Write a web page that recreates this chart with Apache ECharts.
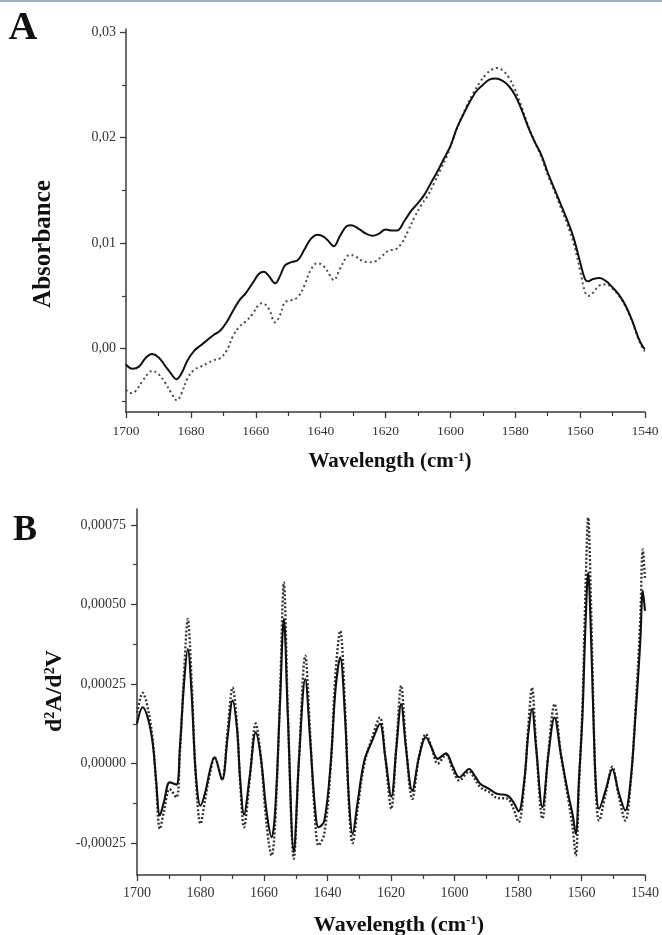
<!DOCTYPE html>
<html>
<head>
<meta charset="utf-8">
<script src="https://cdn.jsdelivr.net/npm/echarts@6/dist/echarts.min.js"></script>
<style>
html,body{margin:0;padding:0;background:#fff;}
#c{width:662px;height:935px;}
</style>
</head>
<body>
<div id="c"></div>
<script>
// ---------- Panel A : absorbance ----------
const wnA_solid = [1700,1698,1696,1694,1692,1690,1688,1686,1684.5,1683,1681,1679,1677,1675,1673,1671,1669,1667,1665,1663,1661,1659,1657.5,1656,1654,1652.5,1651,1649,1647,1645,1643,1641,1639,1637,1636,1634,1632,1630.5,1628,1626,1624,1622,1620,1618,1616.5,1614,1612,1610,1608,1606,1604,1602,1600,1598,1596,1594,1592,1590,1588,1586,1584,1582,1580,1578,1576,1574,1572,1570,1568,1566,1564,1562,1560,1558.5,1557.5,1556,1554,1552,1550,1548,1546,1544,1542,1540.5,1540];
const absSolid = [-0.0015,-0.0019,-0.0017,-0.0009,-0.0005,-0.0008,-0.0016,-0.0024,-0.0029,-0.0024,-0.0011,-0.0002,0.0003,0.0008,0.0013,0.0017,0.0025,0.0036,0.0046,0.0053,0.0062,0.0071,0.0073,0.0069,0.0062,0.0069,0.0079,0.0082,0.0084,0.0094,0.0104,0.0108,0.0106,0.0100,0.0097,0.0107,0.0116,0.0117,0.0113,0.0109,0.0107,0.0109,0.0113,0.0112,0.0112,0.0122,0.0131,0.0138,0.0146,0.0157,0.0168,0.0180,0.0192,0.0209,0.0222,0.0234,0.0244,0.0250,0.0255,0.0256,0.0254,0.0249,0.0240,0.0226,0.0210,0.0196,0.0184,0.0167,0.0152,0.0137,0.0122,0.0105,0.0082,0.0066,0.0064,0.0066,0.0067,0.0064,0.0058,0.0051,0.0041,0.0027,0.0010,0.0001,0.0000];

const wnA_dotted = [1700,1698.5,1697,1695,1693,1692,1690,1688,1686,1684.3,1683,1681,1679,1677,1675,1673,1671,1669,1667,1665,1663,1661,1659,1658,1656,1654,1652.5,1651,1649,1647,1645,1643,1641,1639,1637,1636,1634,1632,1631,1629,1627,1625,1623,1621,1619,1617,1615,1613,1611,1609,1607,1605,1603,1601,1599,1597,1595,1593,1591,1589,1587,1585.5,1584,1582,1580,1578,1576,1574,1572,1570,1568,1566,1564,1562,1560,1558.5,1557.5,1556,1554,1552,1550,1548,1546,1544,1542,1540.5,1540];
const absDotted = [-0.0039,-0.0042,-0.0040,-0.0031,-0.0023,-0.0021,-0.0024,-0.0032,-0.0042,-0.0049,-0.0043,-0.0028,-0.0020,-0.0017,-0.0014,-0.0011,-0.0009,-0.0002,0.0012,0.0021,0.0026,0.0033,0.0042,0.0043,0.0038,0.0025,0.0032,0.0044,0.0046,0.0049,0.0060,0.0075,0.0081,0.0078,0.0069,0.0065,0.0076,0.0087,0.0089,0.0087,0.0083,0.0082,0.0083,0.0088,0.0093,0.0094,0.0100,0.0112,0.0125,0.0136,0.0145,0.0157,0.0170,0.0183,0.0200,0.0216,0.0230,0.0242,0.0252,0.0260,0.0265,0.0266,0.0264,0.0257,0.0245,0.0229,0.0211,0.0196,0.0182,0.0165,0.0150,0.0134,0.0118,0.0100,0.0074,0.0054,0.0050,0.0053,0.0060,0.0061,0.0057,0.0050,0.0040,0.0026,0.0009,-0.0001,-0.0002];

const yTicksA = [0.00, 0.01, 0.02, 0.03];
const yMinorA = [-0.005, 0.005, 0.015, 0.025];

// ---------- Panel B : second derivative ----------
const wnB_solid = [1700,1698.2,1696.5,1695,1694,1692.8,1691.5,1689.7,1687.6,1686.5,1685.2,1684,1682.8,1681.5,1680,1678.5,1677,1675.6,1673.2,1671.5,1669.9,1668.5,1667.5,1666.3,1664.5,1662.6,1661,1659.2,1657.6,1656.5,1655,1653.75,1652.5,1650.6,1649,1647,1645.5,1644,1642.8,1641,1639,1637.5,1636,1634.5,1633.2,1632.1,1630.5,1628.4,1626,1623.5,1621.8,1619.9,1618.3,1616.8,1615.3,1613.3,1611.2,1609,1607.2,1605.3,1602.7,1600.5,1598.5,1595.4,1593.5,1591.8,1589,1586.6,1583.4,1581.5,1579.8,1578,1576.8,1575.6,1574.3,1572.3,1570.4,1568.5,1566.5,1564.2,1562.8,1561.8,1560.8,1559.7,1558.8,1557.9,1557.0,1556.2,1555.4,1554.5,1552.3,1550.3,1548.3,1546.2,1544.5,1543,1541.5,1540.7,1540];
const d2Solid = [0.000125,0.000177,0.00014,0.00006,-0.00005,-0.000163,-0.00012,-0.000059,-0.000066,0.00005,0.00025,0.00036,0.00022,-0.00003,-0.000132,-0.00009,-0.00002,0.00002,-0.00005,0.00008,0.000198,0.00011,-0.00005,-0.00016,-0.00004,0.000098,0.00002,-0.00015,-0.000231,-0.00015,0.00018,0.000454,0.00015,-0.000278,0.00001,0.000266,0.00008,-0.00013,-0.0002,-0.00018,0.0,0.00023,0.000334,0.00015,-0.00012,-0.000221,-0.00012,0.00001,0.00007,0.000125,0.00002,-0.000104,0.00005,0.000187,0.00005,-0.000085,0.00002,0.000083,0.00005,0.000015,0.000032,-0.00001,-0.000043,-0.000017,-0.00004,-0.000064,-0.00008,-0.000095,-0.0001,-0.00012,-0.00015,-0.00005,0.00009,0.000172,0.00005,-0.000137,0.00003,0.000145,0.00003,-0.000095,-0.00016,-0.000221,-0.00005,0.00015,0.00042,0.0006,0.0004,0.00013,-0.00008,-0.000142,-0.00008,-0.000017,-0.00009,-0.000147,-0.00005,0.00015,0.00038,0.000543,0.00048];

const wnB_dotted = wnB_solid;
const d2Dotted = [0.00016,0.000222,0.00017,0.00007,-0.00006,-0.000205,-0.00015,-0.00008,-0.000106,0.00003,0.00028,0.000454,0.00026,-0.00004,-0.000189,-0.00011,-0.00003,0.00002,-0.00005,0.0001,0.000239,0.00012,-0.00006,-0.0002,-0.00005,0.000126,0.00002,-0.00019,-0.000289,-0.00019,0.0002,0.000569,0.00017,-0.000299,0.00001,0.000339,0.0001,-0.00016,-0.000257,-0.00022,-0.00001,0.00028,0.000417,0.00018,-0.00014,-0.00025,-0.00014,0.0,0.00008,0.000145,0.00002,-0.000142,0.00006,0.000245,0.00006,-0.000111,0.00002,0.000093,0.00005,0.0,0.000028,-0.00002,-0.000053,-0.000025,-0.00005,-0.000075,-0.00009,-0.000108,-0.00011,-0.00014,-0.000184,-0.00006,0.00011,0.000239,0.00006,-0.000173,0.00004,0.000187,0.00003,-0.00011,-0.0002,-0.000289,-0.00007,0.00018,0.00052,0.000773,0.0005,0.00015,-0.0001,-0.000179,-0.00009,-0.00001,-0.0001,-0.000179,-0.00006,0.00017,0.00045,0.000673,0.00058];

const yTicksB = [-0.00025, 0, 0.00025, 0.0005, 0.00075];
const yMinorB = [-0.000125, 0.000125, 0.000375, 0.000625];
const xTicks = [1700, 1680, 1660, 1640, 1620, 1600, 1580, 1560, 1540];

// ---------- build ----------
const zip = (xs, ys) => xs.map((x, i) => [x, ys[i]]);
const SERIF = 'Liberation Serif';
const axisCol = '#3a3a3a';

function xAxisDef(gridIndex, fs, margin) {
  return {
    type: 'value', gridIndex, min: xTicks[xTicks.length - 1], max: xTicks[0], interval: 20, inverse: true,
    axisLine: { show: true, onZero: false, lineStyle: { color: axisCol, width: 1.5 } },
    axisTick: { show: true, length: 6, lineStyle: { color: axisCol, width: 1.3 } },
    minorTick: { show: true, splitNumber: 2, length: 4, lineStyle: { color: axisCol, width: 1.2 } },
    axisLabel: { fontFamily: SERIF, fontSize: fs, color: '#333', margin, formatter: v => String(Math.round(v)) },
    splitLine: { show: false }
  };
}
function yMain(gridIndex, min, max, ticks, dec, fs, margin) {
  return {
    type: 'value', gridIndex, min, max,
    axisLine: { show: true, onZero: false, lineStyle: { color: axisCol, width: 1.5 } },
    axisTick: { show: true, length: 6, customValues: ticks, lineStyle: { color: axisCol, width: 1.3 } },
    axisLabel: { customValues: ticks, fontFamily: SERIF, fontSize: fs, color: '#333', margin,
      formatter: v => (Math.abs(v) < 1e-12 ? 0 : v).toFixed(dec).replace('.', ',') },
    splitLine: { show: false }
  };
}
function yMinor(gridIndex, min, max, ticks) {
  return {
    type: 'value', gridIndex, min, max, position: 'left',
    axisLine: { show: false },
    axisTick: { show: true, length: 4, customValues: ticks, lineStyle: { color: axisCol, width: 1.2 } },
    axisLabel: { show: false },
    splitLine: { show: false }
  };
}

const supStyle = { fontSize: 13, fontWeight: 'bold', fontFamily: SERIF, verticalAlign: 'top', fill: '#111' };
function titleText(x, y, text, fs, rot, sup) {
  return {
    type: 'text', x, y, rotation: rot || 0,
    style: {
      text, fontFamily: SERIF, fontWeight: 'bold', fontSize: fs, fill: '#111',
      align: 'center', verticalAlign: 'middle',
      rich: { s: Object.assign({}, supStyle, { fontSize: sup }) , n: { fontFamily: SERIF, fontWeight: 'bold', fontSize: fs, fill: '#111' } }
    }
  };
}

const option = {
  backgroundColor: '#ffffff',
  animation: false,
  grid: [
    { left: 126, right: 17, top: 29, bottom: 523, containLabel: false },
    { left: 137, right: 13, top: 509, bottom: 60, containLabel: false }
  ],
  xAxis: [xAxisDef(0, 13.5, 12), xAxisDef(1, 14, 11)],
  yAxis: [
    yMain(0, -0.006, 0.0303, yTicksA, 2, 14, 10),
    yMinor(0, -0.006, 0.0303, yMinorA),
    yMain(1, -0.00035, 0.0008, yTicksB, 5, 14, 11),
    yMinor(1, -0.00035, 0.0008, yMinorB)
  ],
  series: [
    { type: 'line', xAxisIndex: 0, yAxisIndex: 0, data: zip(wnA_dotted, absDotted), smooth: 0.4, showSymbol: false,
      lineStyle: { color: '#4a4a4a', width: 2, type: [2, 3] } },
    { type: 'line', xAxisIndex: 0, yAxisIndex: 0, data: zip(wnA_solid, absSolid), smooth: 0.4, showSymbol: false,
      lineStyle: { color: '#111', width: 2 } },
    { type: 'line', xAxisIndex: 1, yAxisIndex: 2, data: zip(wnB_dotted, d2Dotted), smooth: 0.35, showSymbol: false,
      lineStyle: { color: '#333', width: 2.4, type: [2, 2] } },
    { type: 'line', xAxisIndex: 1, yAxisIndex: 2, data: zip(wnB_solid, d2Solid), smooth: 0.35, showSymbol: false,
      lineStyle: { color: '#111', width: 2.1 } }
  ],
  graphic: [
    { type: 'rect', shape: { x: 0, y: 0, width: 662, height: 2 }, style: { fill: '#9fb1c9' } },
    { type: 'text', x: 23, y: 29, style: { text: 'A', fontFamily: SERIF, fontWeight: 'bold', fontSize: 40, fill: '#111', align: 'center', verticalAlign: 'middle' } },
    { type: 'text', x: 25, y: 531, style: { text: 'B', fontFamily: SERIF, fontWeight: 'bold', fontSize: 36, fill: '#111', align: 'center', verticalAlign: 'middle' } },
    titleText(44, 244, '{n|Absorbance}', 25, Math.PI / 2, 14),
    titleText(390, 462, '{n|Wavelength (cm}{s|-1}{n|)}', 21, 0, 13),
    titleText(399, 925, '{n|Wavelength (cm}{s|-1}{n|)}', 22, 0, 13),
    titleText(55, 691, '{n|d}{s|2}{n|A/d}{s|2}{n|V}', 24, Math.PI / 2, 14)
  ]
};
echarts.init(document.getElementById('c'), null, { renderer: 'canvas' }).setOption(option);
</script>
</body>
</html>
